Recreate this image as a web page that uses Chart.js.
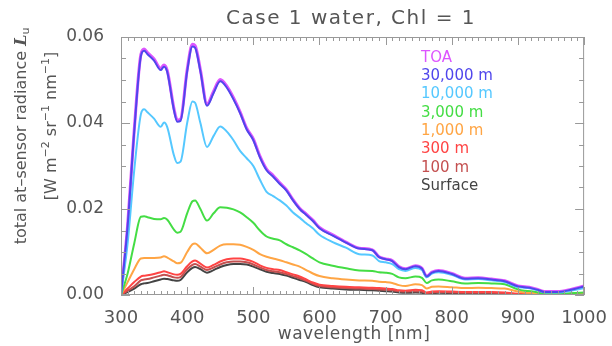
<!DOCTYPE html>
<html>
<head>
<meta charset="utf-8">
<script src="https://cdn.jsdelivr.net/npm/chart.js@4/dist/chart.umd.min.js"></script>
<style>
html,body{margin:0;padding:0;background:#fff;}
#wrap{width:612px;height:346px;position:relative;}
</style>
</head>
<body>
<div id="wrap"><canvas id="c" width="612" height="346"></canvas></div>
<script>
const wavelengths = [300,310,320,330,335,340,350,360,365,370,380,385,390,400,408,412,420,430,440,450,460,470,480,490,500,510,520,530,540,550,560,570,580,590,600,620,640,660,680,690,700,710,720,730,745,755,762,770,780,800,820,840,860,880,900,910,920,930,940,960,980,1000];

const toa = [0.0000,0.0162,0.0384,0.0559,0.0572, 0.0564,0.0549,0.0527,0.0535,0.0522, 0.0434,0.0407,0.0409,0.0524,0.0583, 0.0580,0.0524,0.0444,0.0474,0.0501, 0.0486,0.0459,0.0426,0.0388,0.0363, 0.0323,0.0293,0.0278,0.0261,0.0245, 0.0222,0.0202,0.0188,0.0174,0.0157, 0.0140,0.0123,0.0109,0.0105,0.0089, 0.0084,0.0080,0.0066,0.0061,0.0068, 0.0062,0.0044,0.0053,0.0057,0.0050, 0.0039,0.0040,0.0037,0.0033,0.0021, 0.0019,0.0017,0.0013,0.0008,0.0008, 0.0013,0.0021];
const alt30000 = [0.0000,0.0160,0.0380,0.0555,0.0568, 0.0560,0.0545,0.0523,0.0531,0.0518, 0.0430,0.0403,0.0405,0.0520,0.0578, 0.0575,0.0520,0.0440,0.0470,0.0497, 0.0482,0.0455,0.0423,0.0385,0.0360, 0.0320,0.0290,0.0275,0.0258,0.0243, 0.0220,0.0200,0.0186,0.0172,0.0155, 0.0138,0.0122,0.0108,0.0104,0.0088, 0.0083,0.0079,0.0065,0.0060,0.0067, 0.0061,0.0043,0.0052,0.0056,0.0049, 0.0038,0.0039,0.0036,0.0032,0.0020, 0.0018,0.0016,0.0012,0.0007,0.0007, 0.0012,0.0020];
const alt10000 = [0.0000,0.0120,0.0290,0.0420,0.0432, 0.0425,0.0410,0.0391,0.0401,0.0390, 0.0325,0.0307,0.0310,0.0400,0.0450, 0.0447,0.0400,0.0344,0.0370,0.0392, 0.0380,0.0360,0.0335,0.0318,0.0300, 0.0268,0.0240,0.0230,0.0220,0.0208, 0.0192,0.0180,0.0167,0.0155,0.0140, 0.0123,0.0110,0.0095,0.0092,0.0079, 0.0076,0.0072,0.0060,0.0056,0.0063, 0.0058,0.0041,0.0050,0.0053,0.0047, 0.0036,0.0037,0.0034,0.0030,0.0018, 0.0017,0.0015,0.0011,0.0006,0.0006, 0.0010,0.0016];
const alt3000 = [0.0000,0.0050,0.0120,0.0182,0.0183, 0.0181,0.0177,0.0176,0.0179,0.0175, 0.0152,0.0145,0.0147,0.0190,0.0218, 0.0220,0.0200,0.0173,0.0190,0.0204, 0.0203,0.0199,0.0192,0.0181,0.0168, 0.0150,0.0136,0.0131,0.0127,0.0118, 0.0111,0.0104,0.0095,0.0085,0.0076, 0.0068,0.0062,0.0057,0.0056,0.0053, 0.0052,0.0049,0.0041,0.0039,0.0043, 0.0040,0.0028,0.0034,0.0036,0.0032, 0.0027,0.0028,0.0027,0.0025,0.0013, 0.0010,0.0009,0.0006,0.0003,0.0003, 0.0004,0.0006];
const alt1000 = [0.0000,0.0030,0.0060,0.0085,0.0086, 0.0086,0.0086,0.0087,0.0090,0.0087, 0.0078,0.0074,0.0075,0.0100,0.0118, 0.0120,0.0110,0.0097,0.0105,0.0115, 0.0118,0.0118,0.0117,0.0112,0.0105, 0.0095,0.0089,0.0085,0.0081,0.0076, 0.0071,0.0066,0.0058,0.0050,0.0044, 0.0039,0.0036,0.0034,0.0033,0.0031, 0.0030,0.0028,0.0023,0.0021,0.0025, 0.0023,0.0015,0.0019,0.0020,0.0018, 0.0016,0.0017,0.0016,0.0015,0.0008, 0.0006,0.0005,0.0004,0.0002,0.0002, 0.0003,0.0004];
const alt300 = [0.0000,0.0015,0.0030,0.0043,0.0045, 0.0046,0.0049,0.0053,0.0055,0.0053, 0.0048,0.0047,0.0049,0.0067,0.0078, 0.0080,0.0073,0.0064,0.0070,0.0078, 0.0083,0.0085,0.0085,0.0082,0.0077, 0.0069,0.0063,0.0060,0.0058,0.0053, 0.0048,0.0043,0.0036,0.0029,0.0024, 0.0021,0.0019,0.0018,0.0017,0.0016, 0.0015,0.0014,0.0011,0.0010,0.0012, 0.0011,0.0006,0.0008,0.0009,0.0008, 0.0007,0.0007,0.0007,0.0006,0.0003, 0.0003,0.0003,0.0002,0.0002,0.0002, 0.0002,0.0002];
const alt100 = [0.0000,0.0010,0.0020,0.0034,0.0036, 0.0037,0.0041,0.0045,0.0047,0.0046, 0.0041,0.0040,0.0042,0.0060,0.0070, 0.0072,0.0066,0.0058,0.0064,0.0071, 0.0076,0.0078,0.0078,0.0076,0.0071, 0.0064,0.0058,0.0055,0.0053,0.0049, 0.0044,0.0039,0.0033,0.0026,0.0021, 0.0018,0.0016,0.0015,0.0014,0.0013, 0.0012,0.0011,0.0009,0.0008,0.0009, 0.0008,0.0004,0.0006,0.0007,0.0006, 0.0005,0.0005,0.0005,0.0004,0.0002, 0.0002,0.0002,0.0001,0.0001,0.0001, 0.0001,0.0001];
const surface = [0.0000,0.0007,0.0015,0.0025,0.0027, 0.0028,0.0032,0.0036,0.0038,0.0037, 0.0034,0.0033,0.0035,0.0053,0.0063, 0.0065,0.0060,0.0052,0.0058,0.0065, 0.0070,0.0072,0.0072,0.0071,0.0066, 0.0060,0.0054,0.0051,0.0049,0.0045, 0.0040,0.0035,0.0030,0.0023,0.0018, 0.0015,0.0013,0.0012,0.0011,0.0010, 0.0009,0.0008,0.0006,0.0005,0.0006, 0.0005,0.0002,0.0004,0.0005,0.0004, 0.0003,0.0003,0.0003,0.0003,0.0001, 0.0001,0.0001,0.0001,0.0001,0.0001, 0.0001,0.0001];

const seriesLabels = ['TOA','30,000 m','10,000 m','3,000 m','1,000 m','300 m','100 m','Surface'];
const seriesValues = [toa, alt30000, alt10000, alt3000, alt1000, alt300, alt100, surface];
const seriesColors = ['#dd55ff','#5046ec','#55c8ff','#44dd44','#ffa544','#ff4444','#c45050','#444444'];

const xTicks = [300,400,500,600,700,800,900,1000];
const yTicks = [0.00,0.02,0.04,0.06];

const titleText = 'Case 1 water, Chl = 1';
const xTitle = 'wavelength [nm]';

const FONT = '"DejaVu Sans", sans-serif';
const TXT = '#555555';
const AXC = '#999999';

const datasets = seriesLabels.map((lab, i) => ({
  label: lab,
  data: wavelengths.map((w, k) => ({x: w, y: seriesValues[i][k]})),
  borderColor: seriesColors[i],
  backgroundColor: seriesColors[i],
  borderWidth: i === 0 ? 3 : 2,
  pointRadius: 0,
  cubicInterpolationMode: 'monotone',
  fill: false,
  order: i === 0 ? 1 : 0
}));

const deco = {
  id: 'deco',
  afterDatasetsDraw(chart) {
    const ctx = chart.ctx, a = chart.chartArea;
    const xs = chart.scales.x, ys = chart.scales.y;
    ctx.save();
    ctx.strokeStyle = AXC;
    ctx.lineWidth = 1;
    ctx.strokeRect(a.left + 0.5, a.top + 0.5, a.right - a.left - 1, a.bottom - a.top - 1);
    ctx.beginPath();
    for (let w = 300; w <= 1000; w += 10) {
      const px = Math.round(xs.getPixelForValue(w)) + 0.5;
      const len = (w % 100 === 0) ? 8 : 4;
      ctx.moveTo(px, a.bottom); ctx.lineTo(px, a.bottom - len);
      ctx.moveTo(px, a.top); ctx.lineTo(px, a.top + len);
    }
    for (let k = 0; k <= 12; k++) {
      const v = k * 0.005;
      const py = Math.round(ys.getPixelForValue(v)) + 0.5;
      const len = (k % 4 === 0) ? 9 : 5;
      ctx.moveTo(a.left, py); ctx.lineTo(a.left + len, py);
      ctx.moveTo(a.right, py); ctx.lineTo(a.right - len, py);
    }
    ctx.stroke();

    // title
    ctx.fillStyle = TXT;
    ctx.font = '20px ' + FONT;
    ctx.textAlign = 'center';
    ctx.textBaseline = 'middle';
    if ('letterSpacing' in ctx) ctx.letterSpacing = '1.5px';
    ctx.fillText(titleText, 351, 19);
    if ('letterSpacing' in ctx) ctx.letterSpacing = '0px';

    // x title
    ctx.font = '17px ' + FONT;
    if ('letterSpacing' in ctx) ctx.letterSpacing = '0.5px';
    ctx.fillText(xTitle, 354, 335);
    if ('letterSpacing' in ctx) ctx.letterSpacing = '0px';

    // legend
    ctx.font = '15px ' + FONT;
    ctx.textAlign = 'left';
    seriesLabels.forEach((lab, i) => {
      ctx.fillStyle = seriesColors[i];
      ctx.fillText(lab, 421, 58 + i * 18.3);
    });

    // y titles (rotated)
    const drawRuns = (runs, cx, cy) => {
      ctx.save();
      ctx.translate(cx, cy);
      ctx.rotate(-Math.PI / 2);
      ctx.textAlign = 'left';
      ctx.textBaseline = 'middle';
      let total = 0;
      runs.forEach(r => { ctx.font = r.f; r.w = ctx.measureText(r.t).width; total += r.w; });
      let x = -total / 2;
      runs.forEach(r => { ctx.font = r.f; ctx.fillText(r.t, x, r.dy || 0); x += r.w; });
      ctx.restore();
    };
    ctx.fillStyle = TXT;
    const nf = '16px ' + FONT, sf = '11px ' + FONT;
    drawRuns([
      {t: 'total at\u2013sensor radiance ', f: nf},
      {t: 'L', f: 'italic bold 16px "DejaVu Serif", serif'},
      {t: 'u', f: sf, dy: 4}
    ], 22, 136);
    drawRuns([
      {t: '[W m', f: nf}, {t: '\u22122', f: sf, dy: -6},
      {t: ' sr', f: nf}, {t: '\u22121', f: sf, dy: -6},
      {t: ' nm', f: nf}, {t: '\u22121', f: sf, dy: -6},
      {t: ']', f: nf}
    ], 52, 126);
    ctx.restore();
  }
};

new Chart(document.getElementById('c'), {
  type: 'line',
  data: { datasets },
  options: {
    responsive: false,
    animation: false,
    events: [],
    layout: { padding: { left: 0, top: 37, right: 25, bottom: 0 } },
    plugins: { legend: { display: false }, title: { display: false }, tooltip: { enabled: false } },
    scales: {
      x: {
        type: 'linear', min: 300, max: 1000,
        afterBuildTicks: s => { s.ticks = xTicks.map(v => ({value: v})); },
        afterFit: s => { s.height = 51; },
        grid: { display: false },
        border: { display: false },
        ticks: { padding: 5, color: TXT, font: { family: FONT, size: 18 }, maxRotation: 0, autoSkip: false,
                 callback: v => String(v) }
      },
      y: {
        type: 'linear', min: 0, max: 0.06,
        afterBuildTicks: s => { s.ticks = yTicks.map(v => ({value: v})); },
        afterFit: s => { s.width = 121; },
        grid: { display: false },
        border: { display: false },
        ticks: { padding: 9, color: TXT, font: { family: FONT, size: 17 },
                 callback: v => Number(v).toFixed(2) }
      }
    }
  },
  plugins: [deco]
});
</script>
</body>
</html>
